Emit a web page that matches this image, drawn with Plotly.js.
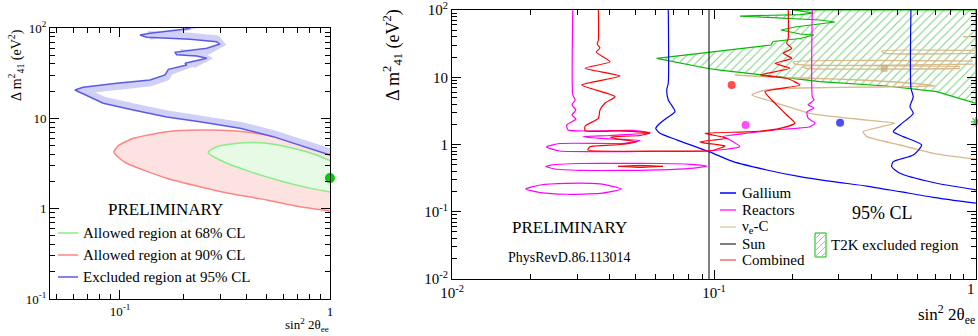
<!DOCTYPE html>
<html><head><meta charset="utf-8">
<script src="https://cdn.plot.ly/plotly-3.0.1.min.js"></script>
<style>html,body{margin:0;padding:0;background:#fff}#chart{width:978px;height:336px}</style>
</head><body><div id="chart"></div>
<script>
// ================= LEFT PANEL DATA (sin^2 2theta_ee, dm2_41 [eV^2]) =================
const excl95X = [0.204, 0.216, 0.139, 0.1245, 0.134, 0.216, 0.288, 0.299, 0.259, 0.183, 0.186, 0.232, 0.259, 0.223, 0.204, 0.208, 0.170, 0.164, 0.139, 0.0965, 0.0668, 0.0610, 0.0668, 0.0832, 0.1157, 0.167, 0.240, 0.373, 0.537, 0.720, 1.0];
const excl95Y = [100, 99, 87.3, 83.7, 78.9, 75.0, 70.5, 66.5, 59.6, 53.8, 50.6, 48.9, 46.2, 42.4, 40.7, 38.9, 34.9, 30.2, 26.6, 24.4, 22.1, 20.6, 18.6, 14.7, 12.4, 10.35, 9.18, 7.76, 6.27, 5.07, 3.93];
const allowed90X = [1.0, 0.720, 0.500, 0.345, 0.240, 0.167, 0.1157, 0.0978, 0.0936, 0.0978, 0.1076, 0.167, 0.240, 0.345, 0.500, 0.720, 1.0];
const allowed90Y = [4.27, 5.29, 6.53, 7.29, 7.43, 7.11, 6.01, 4.94, 4.24, 3.73, 3.18, 2.17, 1.75, 1.45, 1.25, 1.05, 0.94];
const allowed68X = [1.0, 0.864, 0.668, 0.500, 0.386, 0.289, 0.263, 0.299, 0.416, 0.600, 0.774, 1.0];
const allowed68Y = [3.41, 3.93, 4.66, 5.29, 5.37, 4.85, 4.19, 3.46, 2.57, 1.99, 1.72, 1.53];
const leftBestX = [1.0];
const leftBestY = [2.18];

// ================= RIGHT PANEL DATA =================
const galliumX = [0.0669, 0.0669, 0.0660, 0.0669, 0.0710, 0.0660, 0.0622, 0.0599, 0.0622, 0.0721, 0.0957, 0.1185, 0.1589, 0.2129, 0.2853, 0.3828, 0.5128, 0.6871, 1.0, null,
  0.5648, 0.5648, 0.5764, 0.5599, 0.5764, 0.5128, 0.4835, 0.5279, 0.6204, 0.5764, 0.4835, 0.4767, 0.5128, 0.6871, 1.0];
const galliumY = [100, 8.21, 6.46, 4.59, 3.07, 2.48, 2.07, 1.74, 1.47, 1.17, 0.782, 0.555, 0.418, 0.332, 0.280, 0.241, 0.199, 0.164, 0.134, null,
  100, 6.92, 5.14, 3.65, 2.91, 1.95, 1.55, 1.31, 0.983, 0.698, 0.555, 0.468, 0.373, 0.272, 0.211];

const reactorsX = [0.0289, 0.0289, 0.0295, 0.0287, 0.0297, 0.0287, 0.0297, 0.0274, 0.0277, 0.0491, 0.0570, 0.0401, 0.0316, 0.0367, 0.0522, 0.0457, 0.0258, 0.0229, 0.0258, 0.0522, 0.0949, 0.1257, 0.1151, 0.1082, 0.1337, 0.1680, 0.2325, 0.2429, 0.2285, 0.2264, 0.2408, 0.2285, 0.2408, 0.2372, 0.2372, null,
  0.0228, 0.0247, 0.0308, 0.0438, 0.0622, 0.0810, 0.0940, 0.0810, 0.0622, 0.0438, 0.0308, 0.0247, 0.0228, null,
  0.0191, 0.0217, 0.0274, 0.0367, 0.0444, 0.0367, 0.0274, 0.0217, 0.0191];
const reactorsY = [100, 5.45, 4.59, 3.87, 3.26, 2.75, 2.39, 1.95, 1.64, 1.62, 1.48, 1.36, 1.31, 1.23, 1.15, 1.04, 1.035, 0.918, 0.800, 0.787, 0.800, 0.927, 1.17, 1.31, 1.47, 1.64, 1.84, 2.07, 2.48, 3.04, 3.49, 3.87, 4.59, 5.14, 100, null,
  0.471, 0.504, 0.522, 0.525, 0.522, 0.508, 0.479, 0.440, 0.418, 0.411, 0.413, 0.432, 0.471, null,
  0.218, 0.250, 0.265, 0.259, 0.218, 0.187, 0.182, 0.193, 0.218];

const nueCX = [1.0, 0.4377, 0.4456, 1.0, null, 0.9739, 0.2002, 0.2038, 0.9739, null, 0.8688, 0.2186, 0.2225, 0.8688, null,
  0.1203, 0.1499, 0.2129, 0.3609, 0.6113, 0.6975, 0.4302, 0.2129, 0.1566, 0.1396, 0.1594, 0.2325, 0.3837, 0.4907, 0.4302, 0.3705, 0.3837, 0.5128, 0.6871, 1.0, null,
  0.8920, 1.0];
const nueCY = [25.0, 24.6, 22.9, 22.6, null, 17.4, 16.9, 15.7, 15.7, null, 14.5, 14.5, 13.7, 13.5, null,
  10.8, 10.26, 9.75, 9.10, 7.94, 7.41, 7.16, 6.92, 6.46, 5.45, 4.59, 2.91, 2.31, 2.07, 1.82, 1.55, 1.31, 0.983, 0.740, 0.603, null,
  40.1, 40.1];

const sunX = [0.0957, 0.0957];
const sunY = [0.01, 100];

const combinedX = [0.0362, 0.0362, 0.0358, 0.0367, 0.0355, 0.0401, 0.0322, 0.0438, 0.0313, 0.0419, 0.0384, 0.0367, 0.0362, 0.0322, 0.0322, 0.0438, 0.0570, 0.0522, 0.0401, 0.0438, 0.0507, 0.0438, 0.0336, 0.0330, 0.0622, 0.0983, 0.1102, 0.0924, 0.0884, 0.1121, 0.0924, 0.1413, 0.1786, 0.2038, 0.1895, 0.1760, 0.1661, 0.1566, 0.2129, 0.1895, 0.1499, 0.1950, 0.1710, 0.1980, 0.1839, 0.1980, 0.1895, 0.1921, 0.1921];
const combinedY = [100, 35.8, 31.2, 27.2, 23.7, 17.0, 13.6, 10.4, 7.67, 5.14, 4.14, 3.26, 2.45, 1.88, 1.60, 1.59, 1.48, 1.36, 1.29, 1.19, 1.10, 1.00, 0.927, 0.828, 0.800, 0.814, 0.950, 1.05, 1.10, 1.24, 1.47, 1.55, 1.74, 2.07, 2.75, 3.65, 4.59, 6.10, 7.67, 9.65, 10.8, 13.6, 16.1, 19.1, 22.7, 26.9, 32.0, 38.3, 100];
const combinedIslandX = [0.0430, 0.0522, 0.0639, 0.0522, 0.0430];
const combinedIslandY = [0.474, 0.490, 0.474, 0.455, 0.474];

const t2kX = [0.0604, 0.0938, 0.1651, 0.1680, 0.1883, 0.2129, 0.2408, 0.2129, 0.1802, 0.2038, 0.2896, 0.2538, 0.1257, 0.2129, 0.2387, 0.2002, 1.0, 1.0, 0.7079, 0.4563, 0.2538, 0.1499, 0.1054, 0.0938, 0.0604];
const t2kY = [19.1, 23.3, 30.2, 34.0, 35.8, 37.7, 42.5, 44.0, 50.4, 55.9, 66.3, 71.0, 81.4, 85.7, 90.2, 100, 100, 4.10, 6.10, 7.41, 8.59, 10.8, 12.8, 13.6, 19.1];

const bestFitLabels = ['Combined', 'Reactors', 'Gallium', 'νe-C', 'T2K'];
const bestFitX = [0.1168, 0.132, 0.303, 0.446, 1.0];
const bestFitY = [7.67, 1.95, 2.11, 13.6, 2.18];

const leftLegend = ['Allowed region at 68% CL', 'Allowed region at 90% CL', 'Excluded region at 95% CL'];
const rightLegend = ['Gallium', 'Reactors', 'ν<sub>e</sub>-C', 'Sun', 'Combined'];

// ================= STYLE =================
const SERIF = "'Liberation Serif', 'Times New Roman', serif";
const W = 978, H = 336;
const PX = v => v / W;
const PY = v => 1 - v / H;

// one-sided hatch band (ROOT style excluded-side band), offset in screen pixels
function sideBand(xs, ys, wPx, pdx, pdy) {
  const u = xs.map(v => Math.log10(v) * pdx), w = ys.map(v => Math.log10(v) * pdy);
  const n = u.length, ox = [], oy = [];
  for (let i = 0; i < n; i++) {
    let nx = 0, ny = 0;
    if (i > 0) { const dx = u[i] - u[i-1], dy = w[i] - w[i-1], L = Math.hypot(dx, dy) || 1; nx += -dy / L; ny += dx / L; }
    if (i < n - 1) { const dx = u[i+1] - u[i], dy = w[i+1] - w[i], L = Math.hypot(dx, dy) || 1; nx += -dy / L; ny += dx / L; }
    const L = Math.hypot(nx, ny) || 1;
    ox.push(Math.pow(10, (u[i] + nx / L * wPx) / pdx));
    oy.push(Math.pow(10, (w[i] + ny / L * wPx) / pdy));
  }
  return { x: xs.concat(ox.reverse()), y: ys.concat(oy.reverse()) };
}
const band = sideBand(excl95X, excl95Y, 6.5, 210, 90.33);

function minorVals(d0, d1) {
  const out = [];
  for (let d = d0; d < d1; d++) for (let k = 2; k <= 9; k++) out.push(k * Math.pow(10, d));
  return out;
}

const traces = [
  // left panel
  { x: allowed90X, y: allowed90Y, xaxis: 'x', yaxis: 'y', mode: 'lines', fill: 'toself', fillcolor: '#fde2e2',
    line: { color: '#ff8585', width: 1.5, shape: 'spline', smoothing: 0.6 }, hoverinfo: 'skip' },
  { x: allowed68X, y: allowed68Y, xaxis: 'x', yaxis: 'y', mode: 'lines', fill: 'toself', fillcolor: '#e6fae6',
    line: { color: '#86ee86', width: 1.5, shape: 'spline', smoothing: 0.6 }, hoverinfo: 'skip' },
  { x: band.x, y: band.y, xaxis: 'x', yaxis: 'y', mode: 'lines', fill: 'toself', fillcolor: '#d0d0f6',
    line: { width: 0 }, hoverinfo: 'skip' },
  { x: excl95X, y: excl95Y, xaxis: 'x', yaxis: 'y', mode: 'lines',
    line: { color: '#5a5ae8', width: 1.5 }, hoverinfo: 'skip' },
  { x: leftBestX, y: leftBestY, xaxis: 'x', yaxis: 'y', mode: 'markers', cliponaxis: false,
    marker: { color: '#00cc00', size: 10 }, hoverinfo: 'skip' },

  // right panel
  { x: t2kX, y: t2kY, xaxis: 'x2', yaxis: 'y2', mode: 'lines', fill: 'toself', fillcolor: 'rgba(0,0,0,0)',
    fillpattern: { shape: '/', fgcolor: '#80d080', bgcolor: 'rgba(0,0,0,0)', size: 6, solidity: 0.18 },
    line: { color: '#00bb00', width: 1.2 }, hoverinfo: 'skip' },
  { x: nueCX, y: nueCY, xaxis: 'x2', yaxis: 'y2', mode: 'lines', connectgaps: false,
    line: { color: '#d9b88a', width: 1.3, shape: 'spline', smoothing: 0.5 }, hoverinfo: 'skip' },
  { x: sunX, y: sunY, xaxis: 'x2', yaxis: 'y2', mode: 'lines', line: { color: '#000', width: 1 }, hoverinfo: 'skip' },
  { x: galliumX, y: galliumY, xaxis: 'x2', yaxis: 'y2', mode: 'lines', connectgaps: false,
    line: { color: '#0000ff', width: 1.2, shape: 'spline', smoothing: 0.6 }, hoverinfo: 'skip' },
  { x: reactorsX, y: reactorsY, xaxis: 'x2', yaxis: 'y2', mode: 'lines', connectgaps: false,
    line: { color: '#ff00ff', width: 1.2, shape: 'spline', smoothing: 0.5 }, hoverinfo: 'skip' },
  { x: combinedX, y: combinedY, xaxis: 'x2', yaxis: 'y2', mode: 'lines',
    line: { color: '#ff0000', width: 1.2, shape: 'spline', smoothing: 0.5 }, hoverinfo: 'skip' },
  { x: combinedIslandX, y: combinedIslandY, xaxis: 'x2', yaxis: 'y2', mode: 'lines', fill: 'toself', fillcolor: '#ff7070',
    line: { color: '#ee0000', width: 1 }, hoverinfo: 'skip' },
  { x: bestFitX, y: bestFitY, text: bestFitLabels, xaxis: 'x2', yaxis: 'y2', mode: 'markers', cliponaxis: false,
    marker: { color: ['#ff0000', '#ff00ff', '#0000ff', '#c8a878', '#00bb00'], size: [8, 8, 8, 7, 8],
      symbol: ['circle', 'circle', 'circle', 'square', 'asterisk-open'],
      line: { color: ['#ff0000', '#ff00ff', '#0000ff', '#c8a878', '#00bb00'], width: [0, 0, 0, 0, 1.5] } },
    hoverinfo: 'skip' }
];

const axisBase = {
  type: 'log', showgrid: false, zeroline: false, showline: true, linecolor: '#000', linewidth: 1,
  mirror: 'allticks', ticks: 'inside', ticklen: 9, tickwidth: 1, tickcolor: '#000',
  tickmode: 'array', fixedrange: true, automargin: false, ticklabeloverflow: 'allow'
};
function ax(extra, minor, fontSize) {
  return Object.assign({}, axisBase, extra, {
    minor: { ticks: 'inside', ticklen: 5, tickwidth: 1, tickcolor: '#000', tickmode: 'array', tickvals: minor, showgrid: false },
    tickfont: { family: SERIF, size: fontSize, color: '#000' }
  });
}

const shapes = [];
const annotations = [];
function txt(text, x, y, size, xanchor, extra) {
  annotations.push(Object.assign({ text, x: PX(x), y: PY(y), xref: 'paper', yref: 'paper', showarrow: false,
    xanchor: xanchor || 'center', yanchor: 'middle', font: { family: SERIF, size, color: '#000' } }, extra || {}));
}
function hline(x0, x1, y, color, width) {
  shapes.push({ type: 'line', xref: 'paper', yref: 'paper', x0: PX(x0), x1: PX(x1), y0: PY(y), y1: PY(y), line: { color, width } });
}

// left legend
const leftLegendColors = ['#86ee86', '#ff8585', '#5a5ae8'];
const leftLegendRows = [233, 255, 277];
leftLegend.forEach((t, i) => { hline(58, 78, leftLegendRows[i], leftLegendColors[i], 1.5); txt(t, 81, leftLegendRows[i], 15, 'left'); });
// right legend
const rightLegendColors = ['#0000ff', '#ff33ff', '#e8cfa8', '#555555', '#ff6a6a'];
const rightLegendRows = [193, 210, 227, 244, 260];
rightLegend.forEach((t, i) => { hline(720, 736, rightLegendRows[i], rightLegendColors[i], 1.5); txt(t, 740, rightLegendRows[i], 15, 'left'); });
// T2K legend box with hatch
shapes.push({ type: 'rect', xref: 'paper', yref: 'paper', x0: PX(815), x1: PX(826), y0: PY(257), y1: PY(233),
  line: { color: '#00bb00', width: 1 }, fillcolor: 'rgba(0,0,0,0)' });
const hatchSegs = [[815, 257, 826, 246], [815, 251, 826, 240], [815, 245, 826, 234], [815, 239, 821, 233], [821, 257, 826, 252]];
shapes.push({ type: 'path', xref: 'paper', yref: 'paper',
  path: hatchSegs.map(s => `M${PX(s[0])},${PY(s[1])}L${PX(s[2])},${PY(s[3])}`).join(''),
  line: { color: '#8ad68a', width: 1 } });
txt('T2K excluded region', 829, 245, 15, 'left');

// other texts
txt('PRELIMINARY', 165, 209, 17);
txt('PRELIMINARY', 569, 227, 17);
txt('PhysRevD.86.113014', 569, 257, 14);
txt('95% CL', 882, 213, 18);
txt('1', 977, 289, 15, 'right');   // right-panel x tick label at the frame edge, kept inside the page
txt('sin<sup>2</sup> 2θ<sub>ee</sub>', 331, 325, 13, 'right');
txt('sin<sup>2</sup> 2θ<sub>ee</sub>', 977, 314, 17, 'right');
annotations.push({ text: 'Δ m<sup>2</sup><sub>41</sub> (eV<sup>2</sup>)', x: PX(16), y: PY(27), xref: 'paper', yref: 'paper',
  showarrow: false, textangle: -90, xanchor: 'center', yanchor: 'top', font: { family: SERIF, size: 14, color: '#000' } });
annotations.push({ text: 'Δ m<sup>2</sup><sub>41</sub> (eV<sup>2</sup>)', x: PX(392), y: PY(7), xref: 'paper', yref: 'paper',
  showarrow: false, textangle: -90, xanchor: 'center', yanchor: 'top', font: { family: SERIF, size: 18, color: '#000' } });

const layout = {
  width: W, height: H, margin: { l: 0, r: 0, t: 0, b: 0 }, showlegend: false,
  paper_bgcolor: '#fff', plot_bgcolor: '#fff', font: { family: SERIF, color: '#000' },
  xaxis: ax({ domain: [PX(50), PX(330)], range: [-1.3334, 0.0003], anchor: 'y',
    tickvals: [0.1, 1], ticktext: ['10<sup>-1</sup>', '1'] }, minorVals(-2, 0).filter(v => v > 0.046), 13),
  yaxis: ax({ domain: [PY(299), PY(28)], range: [-1.0003, 2.0003], anchor: 'x',
    tickvals: [0.1, 1, 10, 100], ticktext: ['10<sup>-1</sup>', '1', '10', '10<sup>2</sup>'] }, minorVals(-1, 2), 13),
  xaxis2: ax({ domain: [PX(452), PX(976)], range: [-2.0003, 0.0003], anchor: 'y2',
    tickvals: [0.01, 0.1, 1], ticktext: ['10<sup>-2</sup>', '10<sup>-1</sup>', ''] }, minorVals(-2, 0), 15),
  yaxis2: ax({ domain: [PY(279), PY(10)], range: [-2.0003, 2.0003], anchor: 'x2',
    tickvals: [0.01, 0.1, 1, 10, 100], ticktext: ['10<sup>-2</sup>', '10<sup>-1</sup>', '1', '10', '10<sup>2</sup>'] }, minorVals(-2, 2), 15),
  shapes, annotations
};

Plotly.newPlot('chart', traces, layout, { staticPlot: true, displayModeBar: false });
</script></body></html>
